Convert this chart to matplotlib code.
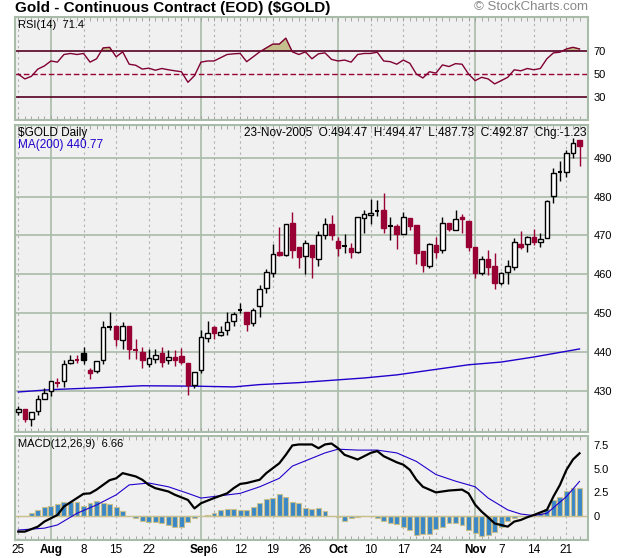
import matplotlib
matplotlib.use("Agg")
import matplotlib.pyplot as plt
import numpy as np

plt.rcParams['font.family'] = ['Liberation Sans', 'DejaVu Sans']

# daily OHLC, 25-Jul-2005 .. 23-Nov-2005 (style: w=up hollow, r=down, k=black)
opens = [424.5, 425.4, 422.8, 424.7, 427.9, 429.9, 432.0, 432.4, 437.2, 438.1,
         437.9, 435.3, 435.0, 438.0, 446.4, 446.7, 443.1, 446.7, 440.6, 440.0,
         436.9, 438.3, 439.7, 437.8, 438.8, 439.0, 437.1, 431.4, 435.4, 443.6,
         446.4, 444.4, 445.7, 448.0, 450.7, 450.2, 447.4, 451.7, 456.4, 460.3,
         465.6, 465.0, 473.1, 467.1, 464.6, 467.6, 463.9, 470.0, 472.9, 468.6,
         467.3, 466.8, 465.6, 474.5, 475.2, 476.3, 476.4, 472.5, 472.4, 470.3,
         474.4, 472.6, 465.9, 462.0, 467.6, 466.3, 473.1, 471.3, 474.6, 473.7,
         467.0, 460.3, 463.9, 462.2, 457.7, 460.5, 461.8, 467.8, 467.7, 469.5,
         468.2, 469.3, 480.2, 486.2, 486.4, 491.1, 494.47]
highs = [426.0, 425.4, 424.5, 428.9, 430.7, 432.5, 433.3, 438.0, 439.3, 439.3,
         441.4, 435.9, 437.6, 448.0, 450.3, 446.7, 447.6, 446.7, 443.3, 441.2,
         440.7, 440.7, 441.2, 440.6, 440.6, 441.0, 437.1, 434.8, 445.7, 448.0,
         446.7, 446.7, 450.4, 450.4, 452.7, 450.2, 451.3, 457.1, 461.4, 467.7,
         472.1, 473.0, 476.1, 467.1, 468.9, 467.6, 471.1, 474.4, 475.3, 469.7,
         470.4, 468.0, 474.6, 476.6, 479.4, 479.1, 481.0, 474.8, 472.9, 476.0,
         474.4, 472.6, 465.9, 468.0, 469.5, 474.6, 473.1, 476.6, 475.4, 473.7,
         467.0, 464.6, 466.3, 465.4, 460.7, 463.7, 469.3, 471.0, 469.9, 471.7,
         470.6, 479.1, 487.3, 489.2, 492.0, 495.0, 494.47]
lows = [423.9, 422.1, 420.9, 423.9, 427.9, 428.6, 430.9, 430.9, 436.9, 437.2,
        436.9, 433.0, 434.6, 436.9, 445.7, 441.6, 440.7, 438.3, 438.2, 435.9,
        436.0, 437.2, 436.0, 436.9, 436.5, 436.9, 429.0, 430.7, 434.6, 442.5,
        443.3, 444.0, 444.4, 446.7, 450.0, 445.5, 446.7, 449.1, 455.1, 459.4,
        464.6, 464.6, 464.1, 461.7, 460.0, 459.0, 462.0, 469.0, 468.7, 464.8,
        465.4, 464.1, 465.4, 470.7, 473.0, 475.0, 470.7, 468.7, 466.6, 470.3,
        471.4, 462.7, 460.7, 461.6, 464.1, 465.4, 471.2, 471.3, 470.6, 466.1,
        459.0, 459.8, 459.7, 456.2, 457.1, 457.4, 461.0, 466.5, 465.8, 467.6,
        467.1, 469.3, 478.4, 484.1, 485.0, 489.8, 487.73]
closes = [425.4, 422.8, 424.5, 427.9, 429.4, 432.5, 431.9, 436.9, 438.0, 438.0,
          439.7, 434.6, 437.6, 446.4, 446.6, 443.3, 446.7, 440.7, 440.5, 437.8,
          438.4, 439.2, 437.3, 438.7, 437.8, 437.3, 431.4, 434.8, 443.8, 444.8,
          444.8, 445.2, 447.8, 449.8, 450.8, 447.2, 450.9, 456.2, 460.5, 465.2,
          465.0, 473.0, 466.3, 464.4, 468.0, 464.4, 470.0, 472.9, 470.0, 466.7,
          467.3, 465.8, 474.6, 475.4, 475.7, 476.4, 471.8, 472.4, 470.3, 474.7,
          472.3, 465.4, 462.3, 467.7, 465.8, 473.1, 471.6, 474.3, 474.2, 467.0,
          460.4, 463.9, 461.8, 457.7, 460.3, 462.2, 468.2, 467.1, 469.5, 468.4,
          469.0, 478.9, 486.0, 486.3, 491.1, 493.7, 492.87]
styles = list("wrwwwwrwwrkrwwkrwrrrwwrwrrrwwwrwwwkrwwwwrwrrwrwwrrkrwwwkrkrwrrrwrwrwrrrwrrwwwrwrwwwkwwr")

ma_idx = [0, 5, 11, 19, 27, 33, 37, 43, 53, 58, 69, 74, 79, 86]
ma_val = [429.7, 430.3, 430.7, 431.3, 431.2, 431.0, 431.6, 432.1, 433.3, 434.1,
          436.7, 437.4, 438.7, 440.77]

rsi = [49.7, 45.5, 47.7, 54.0, 56.7, 61.0, 60.0, 66.6, 67.5, 66.6,
       67.5, 60.0, 62.9, 72.3, 72.8, 64.6, 68.9, 58.2, 57.3, 54.0,
       54.8, 53.0, 54.5, 53.4, 52.5, 51.7, 42.6, 48.3, 60.0, 61.0,
       61.0, 63.8, 66.6, 67.2, 67.5, 60.4, 64.6, 68.9, 72.3, 75.6,
       75.6, 80.7, 68.9, 66.6, 68.9, 62.9, 67.2, 68.0, 62.4, 61.0,
       61.8, 60.0, 66.6, 67.5, 67.5, 68.6, 61.0, 60.4, 58.2, 61.8,
       59.0, 49.7, 46.3, 51.7, 50.5, 57.6, 56.2, 58.7, 58.2, 49.7,
       44.0, 46.9, 45.5, 41.2, 44.0, 46.9, 53.4, 52.5, 54.5, 53.4,
       54.5, 62.9, 68.0, 68.6, 71.4, 72.8, 71.4]

macd_idx = [0, 1, 3, 4, 6, 7, 9, 10, 11, 12, 14, 15, 16, 18, 19, 20, 21, 23, 24,
            26, 27, 28, 30, 32, 33, 34, 35, 37, 38, 40, 41, 42, 43, 45, 46, 47,
            48, 49, 50, 52, 53, 54, 55, 56, 58, 59, 60, 61, 62, 64, 65, 66, 68,
            69, 70, 71, 72, 73, 75, 76, 77, 78, 79, 81, 82, 83, 84, 85, 86]
macd_val = [-1.67, -1.67, -1.14, -0.6, 0.1, 1.0, 1.9, 2.35, 2.4, 2.8, 3.8, 4.0,
            4.55, 4.2, 3.85, 3.3, 2.95, 2.6, 2.25, 1.7, 0.8, 1.35, 1.9, 2.4, 2.95,
            3.4, 3.5, 3.85, 4.55, 5.6, 6.5, 7.5, 7.6, 7.6, 7.2, 7.6, 7.7, 7.2, 6.5,
            6.0, 6.35, 6.7, 6.9, 6.35, 5.7, 5.45, 4.9, 3.85, 3.1, 2.5, 2.6, 2.7,
            2.8, 2.4, 1.2, 0.46, -0.15, -0.8, -1.14, -0.6, -0.43, -0.14, 0.1,
            0.64, 2.06, 3.3, 4.9, 6.0, 6.66]
sig_idx = [0, 4, 6, 9, 12, 15, 17, 20, 23, 26, 28, 34, 37, 40, 42, 47, 49, 52,
           55, 58, 61, 64, 67, 70, 72, 75, 77, 79, 81, 84, 86]
sig_val = [-1.5, -1.3, -0.96, 0.28, 1.17, 2.24, 3.3, 3.5, 3.1, 2.4, 1.9, 2.4,
           3.1, 4.0, 5.3, 6.7, 7.1, 7.0, 7.0, 6.7, 5.8, 4.4, 3.7, 3.1, 1.9, 0.64,
           0.2, 0.04, 0.28, 2.06, 3.67]
hist = [-0.05, -0.05, 0.28, 0.64, 0.9, 1.07, 1.28, 1.5, 1.5, 1.5,
        1.07, 1.35, 1.6, 1.42, 1.28, 0.93, 0.53, 0.0, -0.25, -0.5,
        -0.6, -0.6, -0.8, -0.96, -1.2, -1.2, -0.6, -0.25, 0.0, 0.1,
        0.28, 0.64, 0.75, 0.75, 0.64, 0.64, 0.93, 1.35, 1.8, 1.9,
        2.3, 2.0, 1.5, 1.35, 0.82, 0.75, 0.82, 0.57, 0.02, -0.15,
        -0.5, -0.25, -0.07, 0.0, 0.0, -0.25, -0.5, -0.8, -0.85, -1.14,
        -1.5, -2.0, -1.92, -1.92, -1.4, -1.14, -0.8, -0.7, -0.96, -1.5,
        -1.85, -2.1, -2.0, -1.67, -1.14, -0.5, -0.25, 0.0, 0.0, 0.02,
        0.28, 0.7, 1.7, 2.06, 2.6, 2.95, 2.95]

tick_idx = [0, 5, 10, 15, 20, 28, 30, 34, 39, 44, 49, 54, 59, 64, 70, 74, 79, 84]
tick_lab = ["25", "Aug", "8", "15", "22", "Sep", "6", "12", "19", "26",
            "Oct", "10", "17", "24", "Nov", "7", "14", "21"]
month_idx = [5, 28, 49, 70]
week_idx = [0, 10, 15, 20, 25, 30, 34, 39, 44, 54, 59, 64, 69, 74, 79, 84]

BG = '#f0f0f0'
GRID = '#a9bba9'
RED = '#990033'
W, H = 620, 558
XL = (-0.5, 87.3)

fig = plt.figure(figsize=(W / 100, H / 100), dpi=100)
fig.patch.set_facecolor('white')


def panel(top, bottom):
    ax = fig.add_axes([15 / W, 1 - bottom / H, 573 / W, (bottom - top) / H])
    ax.set_facecolor(BG)
    ax.set_xlim(XL)
    for s in ax.spines.values():
        s.set_color(GRID)
        s.set_linewidth(1.5)
    for m in month_idx:
        ax.axvline(m, color=GRID, lw=1.2, zorder=0)
    for w in week_idx:
        ax.axvline(w, color='#b0b0b0', lw=0.8, ls=(0, (2, 3)), zorder=0)
    ax.yaxis.tick_right()
    ax.tick_params(axis='y', length=0, labelsize=8, pad=4)
    ax.set_xticks(range(87), minor=True)
    ax.tick_params(axis='x', which='minor', direction='in', length=3,
                   color='#999999', top=True, bottom=True)
    ax.tick_params(axis='x', which='major', length=0)
    return ax


x = np.arange(len(closes))

# --- RSI ---
ax1 = panel(17, 120)
ax1.set_ylim(10, 99)
ax1.set_yticks([30, 50, 70])
ax1.set_xticklabels([])
ax1.set_xticks([])
ax1.axhline(70, color='#550022', lw=1.2)
ax1.axhline(30, color='#550022', lw=1.2)
ax1.axhline(50, color=RED, lw=1, ls=(0, (4, 2)))
rsi_a = np.array(rsi)
ax1.fill_between(x, rsi_a, 70, where=rsi_a > 70, interpolate=True,
                 color='#c4bf8c', edgecolor='#8a8550', lw=0.5)
ax1.plot(x, rsi_a, color='#800033', lw=1)
ax1.text(0.005, 0.97, "RSI(14)  71.4", transform=ax1.transAxes, fontsize=8,
         va='top')

# --- price ---
ax2 = panel(125, 432)
ax2.set_ylim(419.4, 498.4)
ax2.set_yticks(range(430, 491, 10))
ax2.set_xticks([])
for v in range(430, 491, 10):
    ax2.axhline(v, color=GRID, lw=1.2, zorder=0)
ax2.plot(ma_idx, ma_val, color='#2200cc', lw=1, zorder=2)
for i in x:
    st = styles[i]
    lc = RED if st == 'r' else 'black'
    fc = {'w': 'white', 'r': RED, 'k': 'black'}[st]
    ax2.vlines(i, lows[i], highs[i], color=lc, lw=1, zorder=3)
    lo, hi = sorted([opens[i], closes[i]])
    if hi - lo < 0.25:
        ax2.hlines((lo + hi) / 2, i - 0.35, i + 0.35, color=lc, lw=1.5, zorder=4)
    else:
        ax2.bar(i, hi - lo, bottom=lo, width=0.7, color=fc, edgecolor=lc,
                lw=1, zorder=4)
ax2.text(0.005, 0.995, "$GOLD Daily", transform=ax2.transAxes, fontsize=8.5,
         va='top')
ax2.text(0.005, 0.955, "MA(200) 440.77", transform=ax2.transAxes, fontsize=8.5,
         va='top', color='#2200cc')
ax2.text(0.998, 0.995, "23-Nov-2005  O:494.47  H:494.47  L:487.73  C:492.87  Chg:-1.23",
         transform=ax2.transAxes, fontsize=8.5, va='top', ha='right')

# --- MACD ---
ax3 = panel(436, 540)
ax3.set_ylim(-2.56, 8.5)
ax3.set_yticks([0, 2.5, 5.0, 7.5])
ax3.set_yticklabels(["0", "2.5", "5.0", "7.5"])
ax3.bar(x, hist, width=0.75, color='#3a87c8', edgecolor='#c8bf8f', lw=0.8)
ax3.axhline(0, color='#c8bf8f', lw=1)
ax3.plot(sig_idx, sig_val, color='#2200cc', lw=0.8)
ax3.plot(macd_idx, macd_val, color='black', lw=1.6)
ax3.set_xticks(tick_idx)
ax3.set_xticklabels(tick_lab, fontsize=8.5)
for lab in ax3.get_xticklabels():
    if lab.get_text() in ("Aug", "Sep", "Oct", "Nov"):
        lab.set_fontweight('bold')
ax3.tick_params(axis='x', which='major', pad=3)
ax3.text(0.005, 0.97, "MACD(12,26,9)  6.66", transform=ax3.transAxes,
         fontsize=8, va='top')

fig.text(15 / W, 1 - 1 / H, "Gold - Continuous Contract (EOD) ($GOLD)",
         fontsize=11, fontweight='bold', va='top')
fig.text(588 / W, 1 - 1 / H, "\u00a9 StockCharts.com", fontsize=9.5,
         color='#888888', va='top', ha='right')

fig.savefig("out.png", dpi=100)
